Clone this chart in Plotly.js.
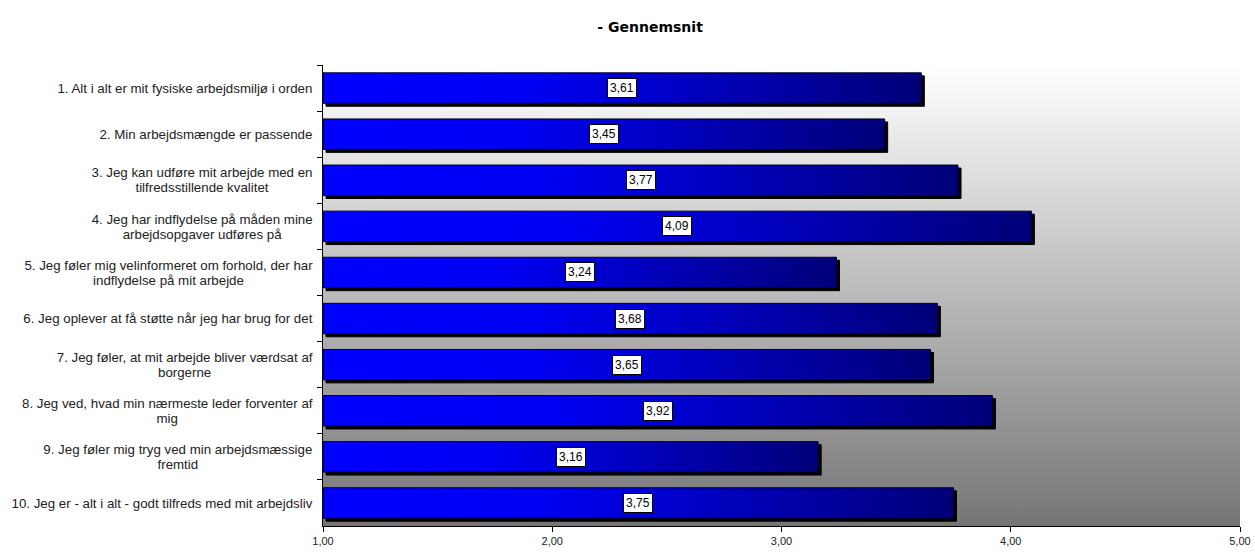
<!DOCTYPE html>
<html>
<head>
<meta charset="utf-8">
<script src="https://cdn.plot.ly/plotly-3.0.1.min.js"></script>
<style>
html,body{margin:0;padding:0;background:#fff;}
#chart{width:1255px;height:553px;}
</style>
</head>
<body>
<div id="chart"></div>
<script>
var categories = [
  "1. Alt i alt er mit fysiske arbejdsmiljø i orden",
  "2. Min arbejdsmængde er passende",
  "3. Jeg kan udføre mit arbejde med en<br>tilfredsstillende kvalitet",
  "4. Jeg har indflydelse på måden mine<br>arbejdsopgaver udføres på",
  "5. Jeg føler mig velinformeret om forhold, der har<br>indflydelse på mit arbejde",
  "6. Jeg oplever at få støtte når jeg har brug for det",
  "7. Jeg føler, at mit arbejde bliver værdsat af<br>borgerne",
  "8. Jeg ved, hvad min nærmeste leder forventer af<br>mig",
  "9. Jeg føler mig tryg ved min arbejdsmæssige<br>fremtid",
  "10. Jeg er - alt i alt - godt tilfreds med mit arbejdsliv"
];
var values = [3.61, 3.45, 3.77, 4.09, 3.24, 3.68, 3.65, 3.92, 3.16, 3.75];
var axisMin = 1;
var axisMax = 5;
var tickValues = [1, 2, 3, 4, 5];

var bgSvg = '<svg xmlns="http://www.w3.org/2000/svg" width="100" height="100" preserveAspectRatio="none">' +
  '<defs><linearGradient id="g" x1="0" y1="0" x2="0" y2="1">' +
  '<stop offset="0" stop-color="#ffffff"/><stop offset="1" stop-color="#757575"/>' +
  '</linearGradient></defs><rect width="100" height="100" fill="url(#g)"/></svg>';
var bgUri = 'data:image/svg+xml;base64,' + btoa(bgSvg);

var trace = {
  type: 'bar',
  orientation: 'h',
  y: categories,
  x: values.map(function(v){ return v - axisMin; }),
  base: axisMin,
  marker: {color: '#0000ff', line: {color: '#000022', width: 1}},
  hoverinfo: 'none',
  showlegend: false
};

var annotations = values.map(function(v, i){
  return {
    x: (axisMin + v) / 2,
    y: categories[i],
    xref: 'x', yref: 'y',
    text: v.toFixed(2).replace('.', ','),
    showarrow: false,
    bgcolor: '#ffffff',
    bordercolor: '#000000',
    borderwidth: 1,
    borderpad: 2,
    font: {family: 'Liberation Sans, Arial, sans-serif', size: 12, color: '#000'}
  };
});

var layout = {
  width: 1255, height: 553,
  margin: {l: 323, r: 15, t: 65, b: 27},
  paper_bgcolor: '#ffffff',
  plot_bgcolor: 'rgba(0,0,0,0)',
  separators: ',.',
  bargap: 0.34,
  title: {
    text: '<b>- Gennemsnit</b>',
    font: {family: 'DejaVu Sans, Verdana, sans-serif', size: 14, color: '#000'},
    x: 0.518, xanchor: 'center', y: 0.951, yanchor: 'middle'
  },
  xaxis: {
    range: [axisMin, axisMax],
    tickvals: tickValues,
    tickformat: '.2f',
    ticks: 'outside', ticklen: 5, tickcolor: '#000', tickwidth: 1,
    showline: true, linecolor: '#000', linewidth: 1,
    showgrid: false, zeroline: false,
    tickfont: {family: 'Liberation Sans, Arial, sans-serif', size: 11, color: '#222'}
  },
  yaxis: {
    type: 'category',
    autorange: 'reversed',
    ticks: 'outside', ticklen: 5, tickcolor: '#000', tickwidth: 1,
    tickson: 'boundaries',
    showline: true, linecolor: '#000', linewidth: 1,
    showgrid: false, zeroline: false,
    ticklabelstandoff: 7,
    tickfont: {family: 'Liberation Sans, Arial, sans-serif', size: 13.3, color: '#222'}
  },
  images: [{
    source: bgUri, xref: 'paper', yref: 'paper',
    x: 0, y: 1, sizex: 1, sizey: 1,
    xanchor: 'left', yanchor: 'top',
    sizing: 'stretch', layer: 'below'
  }],
  annotations: annotations
};

Plotly.newPlot('chart', [trace], layout, {displayModeBar: false, staticPlot: true}).then(function(gd){
  var ns = 'http://www.w3.org/2000/svg';
  var svg = gd.querySelector('.main-svg');
  var defs = svg.querySelector('defs');
  if (!defs) { defs = document.createElementNS(ns, 'defs'); svg.insertBefore(defs, svg.firstChild); }
  var lg = document.createElementNS(ns, 'linearGradient');
  lg.setAttribute('id', 'barGrad');
  lg.setAttribute('x1', '0'); lg.setAttribute('y1', '0');
  lg.setAttribute('x2', '1'); lg.setAttribute('y2', '0');
  [['0', '#0000ff'], ['0.35', '#0000f2'], ['1', '#000078']].forEach(function(s){
    var st = document.createElementNS(ns, 'stop');
    st.setAttribute('offset', s[0]);
    st.setAttribute('stop-color', s[1]);
    lg.appendChild(st);
  });
  defs.appendChild(lg);
  gd.querySelectorAll('.barlayer .point path').forEach(function(p){
    p.style.fill = 'url(#barGrad)';
    p.style.filter = 'drop-shadow(3px 3px 0px #000)';
  });
  // centre multi-line category labels like the original, tighter line spacing
  gd.querySelectorAll('.ytick text').forEach(function(t){
    var lines = t.querySelectorAll('tspan.line');
    if (lines.length < 2) return;
    var b0 = t.getBBox();
    var right = b0.x + b0.width;
    var cy0 = b0.y + b0.height / 2;
    for (var i = 1; i < lines.length; i++) lines[i].setAttribute('dy', '1.13em');
    var cx = right - b0.width / 2;
    t.setAttribute('text-anchor', 'middle');
    t.style.textAnchor = 'middle';
    t.setAttribute('x', cx);
    lines.forEach(function(l){ l.setAttribute('x', cx); l.style.textAnchor = 'middle'; });
    var b1 = t.getBBox();
    var cy1 = b1.y + b1.height / 2;
    var y = parseFloat(t.getAttribute('y') || '0');
    t.setAttribute('y', y + (cy0 - cy1));
    lines.forEach(function(l){ if (l.hasAttribute('y')) l.setAttribute('y', parseFloat(l.getAttribute('y')) + (cy0 - cy1)); });
  });
});
</script>
</body>
</html>
